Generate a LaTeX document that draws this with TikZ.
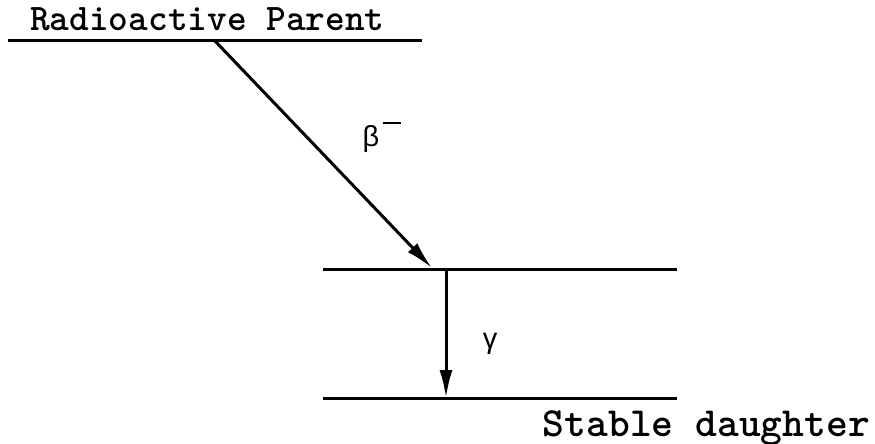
\documentclass[tikz,border=0pt]{standalone}
\usepackage{fontspec}
\newfontfamily\grk{Liberation Sans}
\usetikzlibrary{arrows.meta}
\begin{document}
\begin{tikzpicture}[x=1pt,y=-1pt,
  level/.style={line width=3pt},
  trans/.style={line width=3pt,-{Latex[length=28pt,width=13pt]}},
  lbl/.style={inner sep=0pt,font=\ttfamily\bfseries\fontsize{37.5}{37.5}\selectfont},
  grkl/.style={inner sep=0pt,font=\grk\fontsize{29}{29}\selectfont}]
\useasboundingbox (0,0) rectangle (875,444);
% levels
\coordinate (p1) at (8,41);
\coordinate (p2) at (422,41);
\coordinate (m1) at (323,269);
\coordinate (m2) at (677,269);
\coordinate (g1) at (323,398);
\coordinate (g2) at (677,398);
\draw[level] (p1) -- (p2);
\draw[level] (m1) -- (m2);
\draw[level] (g1) -- (g2);
% transitions
\coordinate (bs) at (215,41);
\coordinate (be) at (432,268);
\coordinate (gs) at (446,269);
\coordinate (ge) at (446,398);
\draw[trans] (bs) -- (be);
\draw[trans] (gs) -- (ge);
% labels
\node[lbl,anchor=base west] (parent) at (30,31) {Radioactive Parent};
\node[lbl,anchor=base east,font=\ttfamily\bfseries\fontsize{41.5}{41.5}\selectfont] (daughter) at (870,436) {Stable daughter};
\node[grkl,anchor=base] (beta) at (371,146) {β};
\draw[line width=2.6pt] (383,123) -- (401,123);
\node[grkl,anchor=base] (gamma) at (490,348) {γ};
\end{tikzpicture}
\end{document}
